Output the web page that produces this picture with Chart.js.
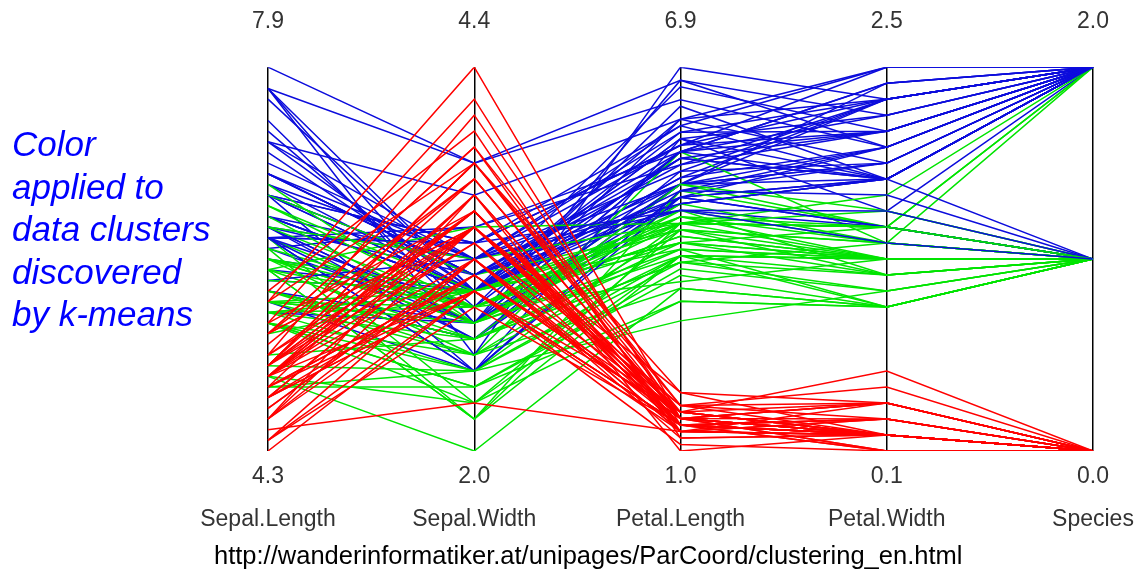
<!DOCTYPE html>
<html>
<head>
<meta charset="utf-8">
<title>Iris parallel coordinates - k-means clusters</title>
<script src="https://cdn.jsdelivr.net/npm/chart.js@4.4.1/dist/chart.umd.min.js"></script>
<style>
  html, body { margin: 0; padding: 0; background: #fff; }
  #wrap { position: relative; width: 1142px; height: 576px; overflow: hidden; }
  #chart { position: absolute; left: 0; top: 0; }
  #note {
    position: absolute; left: 12px; top: 123px;
    font: italic 35px "Liberation Sans", Arial, sans-serif;
    line-height: 42.5px; color: #0000ff;
  }
  #source {
    position: absolute; left: 214px; top: 542px;
    font: 25.5px "Liberation Sans", Arial, sans-serif;
    line-height: 26px; color: #000; white-space: nowrap;
  }
</style>
</head>
<body>
<div id="wrap">
  <canvas id="chart" width="1142" height="576"></canvas>
  <div id="note">Color<br>applied to<br>data clusters<br>discovered<br>by k-means</div>
  <div id="source">http://wanderinformatiker.at/unipages/ParCoord/clustering_en.html</div>
</div>
<script>
// axes of the parallel plot
const axisNames = ['Sepal.Length', 'Sepal.Width', 'Petal.Length', 'Petal.Width', 'Species'];
const axisLow = [4.3, 2.0, 1.0, 0.1, 0.0];
const axisHigh = [7.9, 4.4, 6.9, 2.5, 2.0];
const axisLowText = ['4.3', '2.0', '1.0', '0.1', '0.0'];
const axisHighText = ['7.9', '4.4', '6.9', '2.5', '2.0'];

// iris measurements, one entry per flower
const sepalLength = [
  5.1,4.9,4.7,4.6,5.0,5.4,4.6,5.0,4.4,4.9,5.4,4.8,4.8,4.3,5.8,5.7,5.4,5.1,5.7,5.1,
  5.4,5.1,4.6,5.1,4.8,5.0,5.0,5.2,5.2,4.7,4.8,5.4,5.2,5.5,4.9,5.0,5.5,4.9,4.4,5.1,
  5.0,4.5,4.4,5.0,5.1,4.8,5.1,4.6,5.3,5.0,
  7.0,6.4,6.9,5.5,6.5,5.7,6.3,4.9,6.6,5.2,5.0,5.9,6.0,6.1,5.6,6.7,5.6,5.8,6.2,5.6,
  5.9,6.1,6.3,6.1,6.4,6.6,6.8,6.7,6.0,5.7,5.5,5.5,5.8,6.0,5.4,6.0,6.7,6.3,5.6,5.5,
  5.5,6.1,5.8,5.0,5.6,5.7,5.7,6.2,5.1,5.7,
  6.3,5.8,7.1,6.3,6.5,7.6,4.9,7.3,6.7,7.2,6.5,6.4,6.8,5.7,5.8,6.4,6.5,7.7,7.7,6.0,
  6.9,5.6,7.7,6.3,6.7,7.2,6.2,6.1,6.4,7.2,7.4,7.9,6.4,6.3,6.1,7.7,6.3,6.4,6.0,6.9,
  6.7,6.9,5.8,6.8,6.7,6.7,6.3,6.5,6.2,5.9
];
const sepalWidth = [
  3.5,3.0,3.2,3.1,3.6,3.9,3.4,3.4,2.9,3.1,3.7,3.4,3.0,3.0,4.0,4.4,3.9,3.5,3.8,3.8,
  3.4,3.7,3.6,3.3,3.4,3.0,3.4,3.5,3.4,3.2,3.1,3.4,4.1,4.2,3.1,3.2,3.5,3.6,3.0,3.4,
  3.5,2.3,3.2,3.5,3.8,3.0,3.8,3.2,3.7,3.3,
  3.2,3.2,3.1,2.3,2.8,2.8,3.3,2.4,2.9,2.7,2.0,3.0,2.2,2.9,2.9,3.1,3.0,2.7,2.2,2.5,
  3.2,2.8,2.5,2.8,2.9,3.0,2.8,3.0,2.9,2.6,2.4,2.4,2.7,2.7,3.0,3.4,3.1,2.3,3.0,2.5,
  2.6,3.0,2.6,2.3,2.7,3.0,2.9,2.9,2.5,2.8,
  3.3,2.7,3.0,2.9,3.0,3.0,2.5,2.9,2.5,3.6,3.2,2.7,3.0,2.5,2.8,3.2,3.0,3.8,2.6,2.2,
  3.2,2.8,2.8,2.7,3.3,3.2,2.8,3.0,2.8,3.0,2.8,3.8,2.8,2.8,2.6,3.0,3.4,3.1,3.0,3.1,
  3.1,3.1,2.7,3.2,3.3,3.0,2.5,3.0,3.4,3.0
];
const petalLength = [
  1.4,1.4,1.3,1.5,1.4,1.7,1.4,1.5,1.4,1.5,1.5,1.6,1.4,1.1,1.2,1.5,1.3,1.4,1.7,1.5,
  1.7,1.5,1.0,1.7,1.9,1.6,1.6,1.5,1.4,1.6,1.6,1.5,1.5,1.4,1.5,1.2,1.3,1.4,1.3,1.5,
  1.3,1.3,1.3,1.6,1.9,1.4,1.6,1.4,1.5,1.4,
  4.7,4.5,4.9,4.0,4.6,4.5,4.7,3.3,4.6,3.9,3.5,4.2,4.0,4.7,3.6,4.4,4.5,4.1,4.5,3.9,
  4.8,4.0,4.9,4.7,4.3,4.4,4.8,5.0,4.5,3.5,3.8,3.7,3.9,5.1,4.5,4.5,4.7,4.4,4.1,4.0,
  4.4,4.6,4.0,3.3,4.2,4.2,4.2,4.3,3.0,4.1,
  6.0,5.1,5.9,5.6,5.8,6.6,4.5,6.3,5.8,6.1,5.1,5.3,5.5,5.0,5.1,5.3,5.5,6.7,6.9,5.0,
  5.7,4.9,6.7,4.9,5.7,6.0,4.8,4.9,5.6,5.8,6.1,6.4,5.6,5.1,5.6,6.1,5.6,5.5,4.8,5.4,
  5.6,5.1,5.1,5.9,5.7,5.2,5.0,5.2,5.4,5.1
];
const petalWidth = [
  0.2,0.2,0.2,0.2,0.2,0.4,0.3,0.2,0.2,0.1,0.2,0.2,0.1,0.1,0.2,0.4,0.4,0.3,0.3,0.3,
  0.2,0.4,0.2,0.5,0.2,0.2,0.4,0.2,0.2,0.2,0.2,0.4,0.1,0.2,0.2,0.2,0.2,0.1,0.2,0.2,
  0.3,0.3,0.2,0.6,0.4,0.3,0.2,0.2,0.2,0.2,
  1.4,1.5,1.5,1.3,1.5,1.3,1.6,1.0,1.3,1.4,1.0,1.5,1.0,1.4,1.3,1.4,1.5,1.0,1.5,1.1,
  1.8,1.3,1.5,1.2,1.3,1.4,1.4,1.7,1.5,1.0,1.1,1.0,1.2,1.6,1.5,1.6,1.5,1.3,1.3,1.3,
  1.2,1.4,1.2,1.0,1.3,1.2,1.3,1.3,1.1,1.3,
  2.5,1.9,2.1,1.8,2.2,2.1,1.7,1.8,1.8,2.5,2.0,1.9,2.1,2.0,2.4,2.3,1.8,2.2,2.3,1.5,
  2.3,2.0,2.0,1.8,2.1,1.8,1.8,1.8,2.1,1.6,1.9,2.0,2.2,1.5,1.4,2.3,2.4,1.8,1.8,2.1,
  2.4,2.3,1.9,2.3,2.5,2.3,1.9,2.0,2.3,1.8
];
// species code: 0 setosa, 1 versicolor, 2 virginica
const species = [
  0,0,0,0,0,0,0,0,0,0,0,0,0,0,0,0,0,0,0,0,0,0,0,0,0,0,0,0,0,0,0,0,0,0,0,0,0,0,0,0,0,0,0,0,0,0,0,0,0,0,
  1,1,1,1,1,1,1,1,1,1,1,1,1,1,1,1,1,1,1,1,1,1,1,1,1,1,1,1,1,1,1,1,1,1,1,1,1,1,1,1,1,1,1,1,1,1,1,1,1,1,
  2,2,2,2,2,2,2,2,2,2,2,2,2,2,2,2,2,2,2,2,2,2,2,2,2,2,2,2,2,2,2,2,2,2,2,2,2,2,2,2,2,2,2,2,2,2,2,2,2,2
];
// k-means cluster of each flower
const cluster = [
  0,0,0,0,0,0,0,0,0,0,0,0,0,0,0,0,0,0,0,0,0,0,0,0,0,0,0,0,0,0,0,0,0,0,0,0,0,0,0,0,0,0,0,0,0,0,0,0,0,0,
  2,1,2,1,1,1,2,1,1,1,1,1,1,1,1,1,1,1,1,1,2,1,2,1,1,1,1,2,1,1,1,1,1,1,1,1,2,1,1,1,1,1,1,1,1,1,1,1,1,1,
  2,2,2,2,2,2,1,2,2,2,2,2,2,2,2,2,2,2,2,1,2,2,2,2,2,2,2,2,2,2,2,2,2,1,1,2,2,2,2,2,2,2,2,2,2,2,2,2,2,2
];
const clusterColors = ['#ff0000', '#00e400', '#0c0cdc'];

const columns = [sepalLength, sepalWidth, petalLength, petalWidth, species];

// each flower becomes one polyline, every axis scaled to 0..1
const datasets = sepalLength.map((_, row) => ({
  data: columns.map((col, k) => (col[row] - axisLow[k]) / (axisHigh[k] - axisLow[k])),
  borderColor: clusterColors[cluster[row]],
  borderWidth: 1.5,
  pointRadius: 0,
  tension: 0,
  fill: false
}));

const tickFont = { family: '"Liberation Sans", Arial, sans-serif', size: 23 };

new Chart(document.getElementById('chart'), {
  type: 'line',
  data: { labels: axisNames, datasets },
  options: {
    responsive: false,
    animation: false,
    events: [],
    layout: { padding: { left: 268, right: 49, top: 6, bottom: 31 } },
    plugins: { legend: { display: false }, tooltip: { enabled: false } },
    scales: {
      x: {
        type: 'category',
        position: 'bottom',
        offset: false,
        z: 1,
        border: { display: false },
        grid: { color: '#000', lineWidth: 1.5, drawTicks: false },
        ticks: {
          autoSkip: false,
          maxRotation: 0,
          padding: 4,
          color: '#333',
          font: { ...tickFont, lineHeight: 1.87 },
          callback: (v, i) => [axisLowText[i], axisNames[i]]
        }
      },
      x2: {
        // upper value of each axis, pushed up by an empty second line
        type: 'category',
        position: 'top',
        labels: axisHighText,
        offset: false,
        border: { display: false },
        grid: { display: false, drawTicks: false },
        ticks: {
          autoSkip: false,
          maxRotation: 0,
          padding: 0,
          color: '#333',
          font: { ...tickFont, lineHeight: 1.33 },
          callback: (v, i) => [axisHighText[i], '']
        }
      },
      y: { display: false, min: 0, max: 1 }
    }
  }
});
</script>
</body>
</html>
